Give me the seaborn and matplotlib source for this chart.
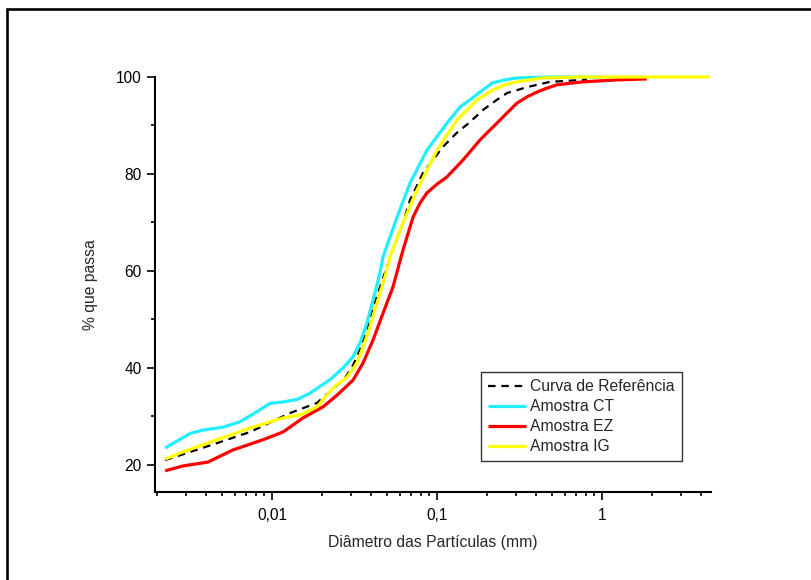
import numpy as np
import pandas as pd
import matplotlib
matplotlib.use("Agg")
import matplotlib.pyplot as plt
from matplotlib.patches import Rectangle
from matplotlib.ticker import FixedLocator, FuncFormatter, NullFormatter
import seaborn as sns

# Particle-size distribution curves (diameter in mm, % passing)
diam_ref = [0.00225, 0.00464, 0.00736, 0.01285, 0.01875, 0.0231, 0.0277, 0.031, 0.0341,
            0.0377, 0.0393, 0.0471, 0.0541, 0.0622, 0.0686, 0.0822, 0.1087, 0.132,
            0.1585, 0.190, 0.231, 0.266, 0.351, 0.484, 0.767, 0.81]
pass_ref = [21.0, 24.5, 26.8, 30.7, 32.8, 35.5, 37.9, 40.6, 43.7,
            47.8, 50.5, 58.5, 64.5, 69.9, 74.6, 80.2, 85.6, 88.5,
            90.7, 93.2, 95.3, 96.7, 97.9, 99.0, 99.4, 99.5]

diam_ct = [0.00225, 0.00319, 0.00382, 0.00505, 0.0064, 0.00811, 0.00973, 0.01166, 0.0142,
           0.0170, 0.01875, 0.0225, 0.02692, 0.03097, 0.03415, 0.03767, 0.04096, 0.04514,
           0.0471, 0.0573, 0.0686, 0.0869, 0.115, 0.138, 0.1585, 0.182, 0.218, 0.258,
           0.305, 0.484, 1.0]
pass_ct = [23.5, 26.5, 27.2, 27.8, 28.9, 31.0, 32.7, 33.0, 33.5,
           34.8, 35.8, 37.6, 40.0, 42.3, 45.2, 49.3, 54.0, 59.6,
           62.9, 71.1, 78.1, 84.9, 90.5, 93.8, 95.3, 96.9, 98.8, 99.4,
           99.8, 100.0, 100.0]

diam_ez = [0.00225, 0.00289, 0.00409, 0.0058, 0.00882, 0.01166, 0.01542, 0.0204, 0.0248,
           0.031, 0.0356, 0.041, 0.0471, 0.0541, 0.0622, 0.0716, 0.0789, 0.0869, 0.1,
           0.115, 0.144, 0.182, 0.231, 0.266, 0.305, 0.351, 0.404, 0.464, 0.534, 0.640,
           0.767, 1.23, 1.87]
pass_ez = [18.8, 19.8, 20.6, 23.1, 25.2, 26.8, 29.7, 32.0, 34.4,
           37.5, 41.0, 45.8, 51.3, 56.7, 64.3, 71.1, 74.0, 76.1, 77.9,
           79.4, 82.9, 87.0, 90.5, 92.6, 94.6, 95.9, 96.9, 97.7, 98.4, 98.7,
           99.0, 99.4, 99.6]

diam_ig = [0.00225, 0.00289, 0.00464, 0.00736, 0.01166, 0.01479, 0.01875, 0.02344, 0.0285,
           0.0327, 0.0356, 0.0393, 0.0433, 0.0484, 0.0519, 0.0622, 0.0757, 0.1, 0.132,
           0.152, 0.175, 0.218, 0.258, 0.305, 0.439, 0.767, 4.5]
pass_ig = [21.2, 22.7, 25.2, 27.6, 29.7, 30.3, 32.0, 35.9, 38.1,
           41.0, 44.3, 48.5, 53.4, 58.8, 62.9, 69.9, 76.7, 84.9, 91.1,
           93.2, 95.3, 97.3, 98.4, 99.0, 99.8, 100.0, 100.0]

series_names = ["Curva de Referência", "Amostra CT", "Amostra EZ", "Amostra IG"]
x_ticks = [0.01, 0.1, 1]
y_ticks = [20, 40, 60, 80, 100]

sns.set_theme(style="ticks")
plt.rcParams["font.family"] = ["Liberation Sans", "DejaVu Sans"]
plt.rcParams["axes.unicode_minus"] = False

fig = plt.figure(figsize=(8.12, 5.8), dpi=100)
W, H = 812, 580
ax = fig.add_axes([155 / W, 1 - 492 / H, (711 - 155) / W, (492 - 77) / H])

styles = [
    dict(color="black", lw=1.6, linestyle=(0, (3.4, 2.6))),
    dict(color="#22EEFF", lw=2.3),
    dict(color="#FF0000", lw=2.3),
    dict(color="#FFFF00", lw=2.3),
]
data = [(diam_ref, pass_ref), (diam_ct, pass_ct), (diam_ez, pass_ez), (diam_ig, pass_ig)]

for name, (dx, py), st in zip(series_names, data, styles):
    df = pd.DataFrame({"d": dx, "p": py})
    sns.lineplot(data=df, x="d", y="p", ax=ax, label=name, clip_on=False,
                 solid_capstyle="butt", solid_joinstyle="round", **st)

ax.set_xscale("log")
ax.set_xlim(0.001954, 4.58)
ax.set_ylim(14.43, 100)

ax.xaxis.set_major_locator(FixedLocator(x_ticks))
ax.xaxis.set_major_formatter(FuncFormatter(lambda v, p: f"{v:g}".replace(".", ",")))
minor_x = [m * 10.0 ** e for e in (-3, -2, -1, 0) for m in range(2, 10)]
ax.xaxis.set_minor_locator(FixedLocator(minor_x))
ax.xaxis.set_minor_formatter(NullFormatter())
ax.yaxis.set_major_locator(FixedLocator(y_ticks))
ax.yaxis.set_minor_locator(FixedLocator([30, 50, 70, 90]))
ax.yaxis.set_major_formatter(FuncFormatter(lambda v, p: f"{v:.0f}"))

for side in ("top", "right"):
    ax.spines[side].set_visible(False)
for side in ("left", "bottom"):
    ax.spines[side].set_linewidth(1.5)
    ax.spines[side].set_color("black")

ax.tick_params(which="major", direction="out", length=5.5, width=1.2, colors="black",
               labelsize=11.2, pad=4)
ax.tick_params(which="minor", direction="out", length=3, width=1.2, colors="black")
ax.tick_params(axis="x", which="major", pad=6)

ax.set_xlabel("Diâmetro das Partículas (mm)", fontsize=11.3, labelpad=9)
ax.set_ylabel("% que passa", fontsize=11.3, labelpad=13)
ax.grid(False)

leg = ax.legend(loc="upper left", bbox_to_anchor=((481 - 155) / 556, (492 - 372) / 415),
                borderaxespad=0, frameon=True, fancybox=False, shadow=False,
                fontsize=11.3, handlelength=2.4, handletextpad=0.3,
                labelspacing=0.32, borderpad=0.45)
leg.get_frame().set_edgecolor("#333333")
leg.get_frame().set_linewidth(1.0)
leg.get_frame().set_alpha(1)

fig.add_artist(Rectangle((6.5 / W, -0.1), 1.2, 1.1 - 9.5 / H, transform=fig.transFigure,
                         fill=False, lw=1.9, edgecolor="black", clip_on=False))

fig.savefig("out.png", dpi=100, facecolor="white")
